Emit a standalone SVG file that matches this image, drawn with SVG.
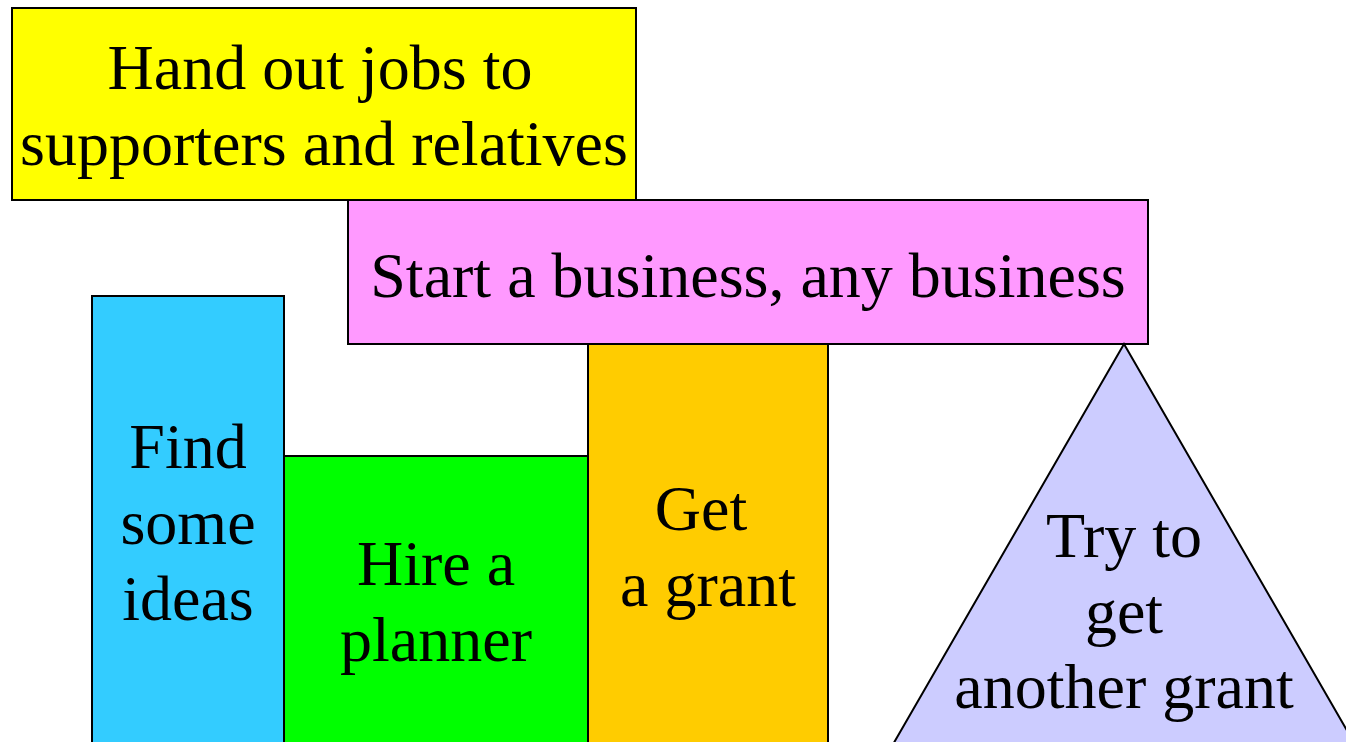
<svg xmlns="http://www.w3.org/2000/svg" width="1346" height="742" viewBox="0 0 1346 742">
<style>
.n{stroke:#000;stroke-width:2}
.t{font-family:"Liberation Serif","Times New Roman",serif;font-size:64px;fill:#000;text-anchor:middle}
</style>
<rect width="1346" height="742" fill="#fff"/>
<g id="connectors"/>
<g id="jobs">
<rect class="n" x="12" y="8" width="624" height="192" fill="#ffff00"/>
<text class="t"><tspan x="320" y="89">Hand out jobs to</tspan><tspan x="324" y="165">supporters and relatives</tspan></text>
</g>
<g id="business">
<rect class="n" x="348" y="200" width="800" height="144" fill="#ff99ff"/>
<text class="t" x="748" y="297">Start a business, any business</text>
</g>
<g id="ideas">
<rect class="n" x="92" y="296" width="192" height="470" fill="#33ccff"/>
<text class="t"><tspan x="188" y="468">Find</tspan><tspan x="188" y="544">some</tspan><tspan x="188" y="620">ideas</tspan></text>
</g>
<g id="planner">
<rect class="n" x="284" y="456" width="304" height="310" fill="#00ff00"/>
<text class="t"><tspan x="436" y="585">Hire a</tspan><tspan x="436" y="661">planner</tspan></text>
</g>
<g id="grant">
<rect class="n" x="588" y="344" width="240" height="420" fill="#ffcc00"/>
<text class="t"><tspan x="701" y="530">Get</tspan><tspan x="708" y="606">a grant</tspan></text>
</g>
<g id="another">
<polygon class="n" points="1124,344 1360,753 888,753" fill="#ccccff"/>
<text class="t"><tspan x="1124" y="557">Try to</tspan><tspan x="1124" y="633">get</tspan><tspan x="1124" y="708">another grant</tspan></text>
</g>
</svg>
